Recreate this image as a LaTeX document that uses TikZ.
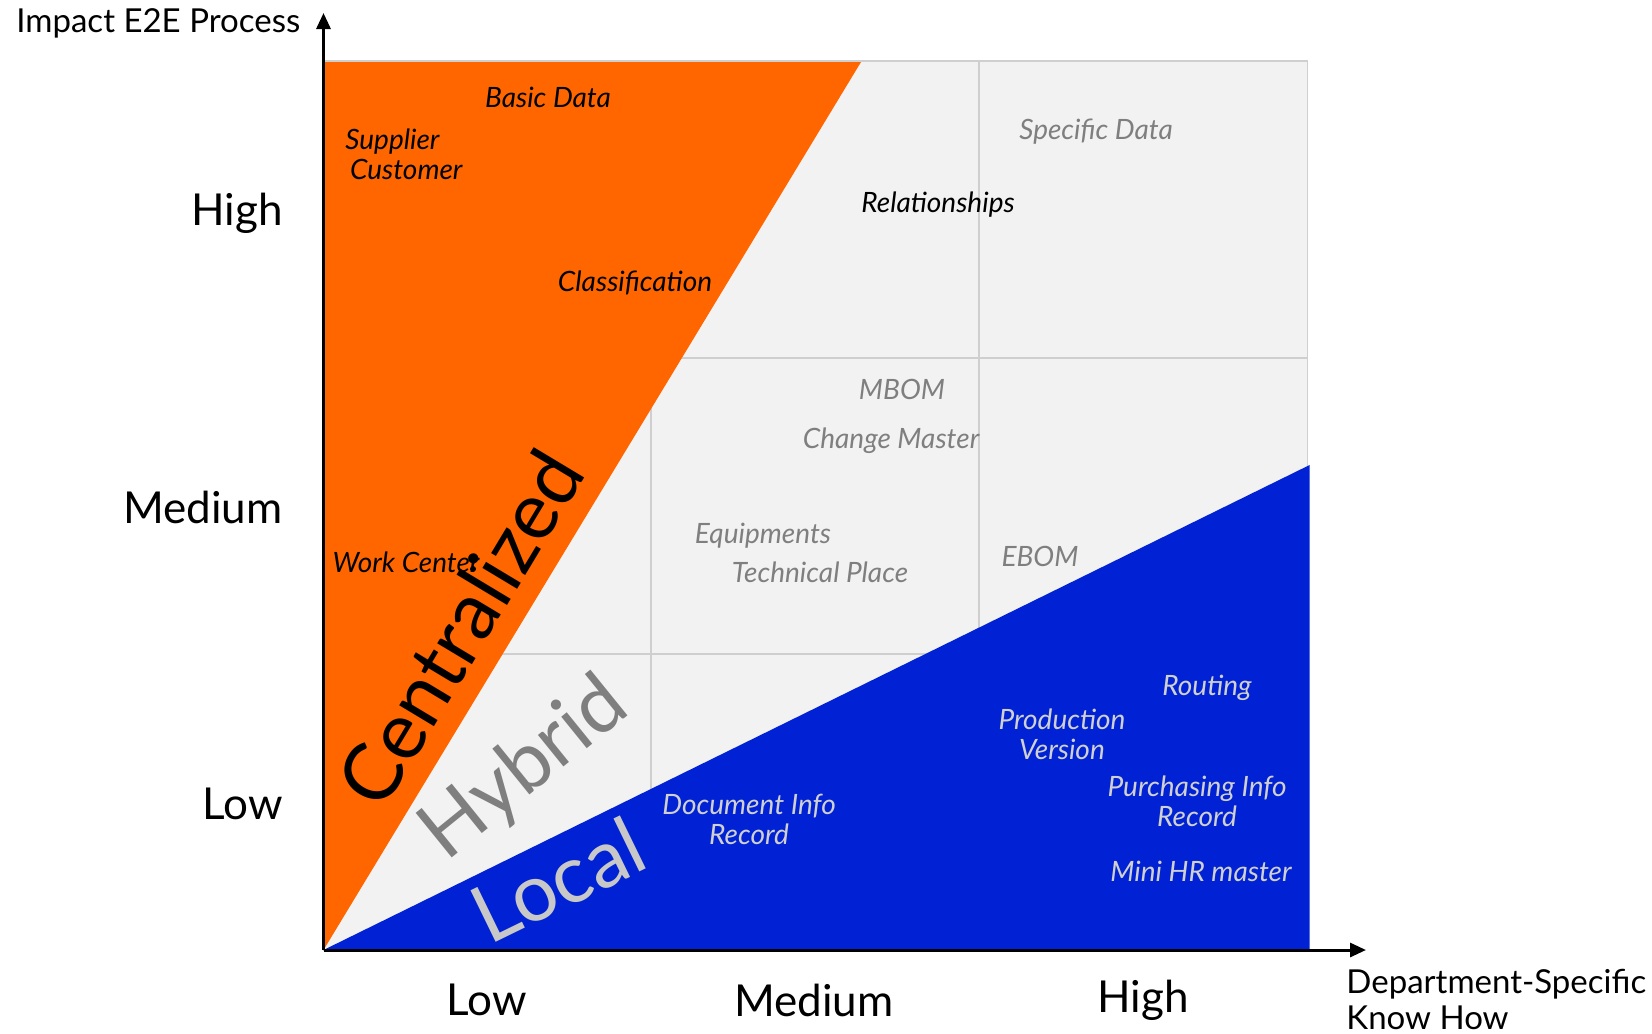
\documentclass[tikz,border=0pt]{standalone}
\usepackage{fontspec}
\setmainfont{Lato}
\usetikzlibrary{arrows.meta}
\definecolor{cOrange}{HTML}{FF6600}
\definecolor{cBlue}{HTML}{0022D4}
\definecolor{cFill}{HTML}{F2F2F2}
\definecolor{cGrid}{HTML}{CFCFCF}
\definecolor{cGrayTxt}{HTML}{7F7F7F}
\definecolor{cLightTxt}{HTML}{D0D0D0}
\definecolor{cLocal}{HTML}{C8C8C8}
\tikzset{
  lbl/.style={inner sep=0pt, font=\fontsize{14}{16}\selectfont\itshape, align=center},
  blk/.style={lbl, text=black},
  gry/.style={lbl, text=cGrayTxt},
  lgt/.style={lbl, text=cLightTxt},
  tick/.style={inner sep=0pt, font=\fontsize{22}{24}\selectfont},
  axtitle/.style={inner sep=0pt, font=\fontsize{16.5}{18}\selectfont, align=left},
  big/.style={inner sep=0pt, font=\fontsize{40}{42}\selectfont},
  axisline/.style={line width=1.5pt, -{Triangle[length=8pt,width=7pt]}},
  gridline/.style={draw=cGrid, line width=0.6pt}
}
\begin{document}
\begin{tikzpicture}[x=0.5pt,y=-0.5pt]
\useasboundingbox (0,0) rectangle (1652,1033);
% grid background
\fill[cFill] (323.5,61) rectangle (1307.5,950);
\draw[gridline] (323.5,61) rectangle (1307.5,950);
\draw[gridline] (651,61) -- (651,950);
\draw[gridline] (979,61) -- (979,950);
\draw[gridline] (323.5,358) -- (1307.5,358);
\draw[gridline] (323.5,654) -- (1307.5,654);
% regions
\fill[cOrange] (323.5,950) -- (323.5,62) -- (861,62) -- cycle;
\fill[cBlue] (323.5,950) -- (1309.6,465) -- (1309.6,950) -- cycle;
% axes
\coordinate (O) at (323.5,950);
\coordinate (Ytop) at (323.5,13);
\coordinate (Xend) at (1366,950);
\draw[axisline] (O) -- (Ytop);
\draw[axisline] (O) -- (Xend);
% axis titles
\node[axtitle, anchor=west] (ytitle) at (16,23) {Impact E2E Process};
\node[axtitle, anchor=north west] (xtitle) at (1346,969) {Department-Specific\\Know How};
% ticks
\node[tick, anchor=east] (yh) at (283,213) {High};
\node[tick, anchor=east] (ym) at (283,507) {Medium};
\node[tick, anchor=east] (yl) at (283,804) {Low};
\node[tick] (xl) at (487,1000) {Low};
\node[tick] (xm) at (814,1000) {Medium};
\node[tick] (xh) at (1143,1000) {High};
% black labels
\node[blk] (basic) at (548,97) {Basic Data};
\node[blk, align=left, anchor=west] (supp) at (345,154) {Supplier\\[-1pt]\,Customer};
\node[blk] (class) at (635,283) {Classification};
\node[blk] (rel) at (938,205) {Relationships};
\node[blk] (work) at (406,562) {Work Center};
\fill (473,569) circle (3);
% gray labels
\node[gry] (spec) at (1096,132) {Specific Data};
\node[gry] (mbom) at (902,389) {MBOM};
\node[gry] (chg) at (891,441) {Change Master};
\node[gry] (equip) at (763,536) {Equipments};
\node[gry] (tech) at (820,572) {Technical Place};
\node[gry] (ebom) at (1040,556) {EBOM};
% light labels on blue
\node[lgt] (doc) at (749,819) {Document Info\\[-1pt]Record};
\node[lgt] (rout) at (1207,688) {Routing};
\node[lgt] (prod) at (1062,734) {Production\\[-1pt]Version};
\node[lgt] (purch) at (1197,801) {Purchasing Info\\[-1pt]Record};
\node[lgt] (hr) at (1201,871) {Mini HR master};
% big region labels
\node[big, rotate=59, text=black] (cen) at (460,628) {Centralized};
\node[big, rotate=39, text=cGrayTxt] (hyb) at (525,770) {Hybrid};
\node[big, rotate=26, text=cLocal] (loc) at (558,880) {Local};
\end{tikzpicture}
\end{document}
